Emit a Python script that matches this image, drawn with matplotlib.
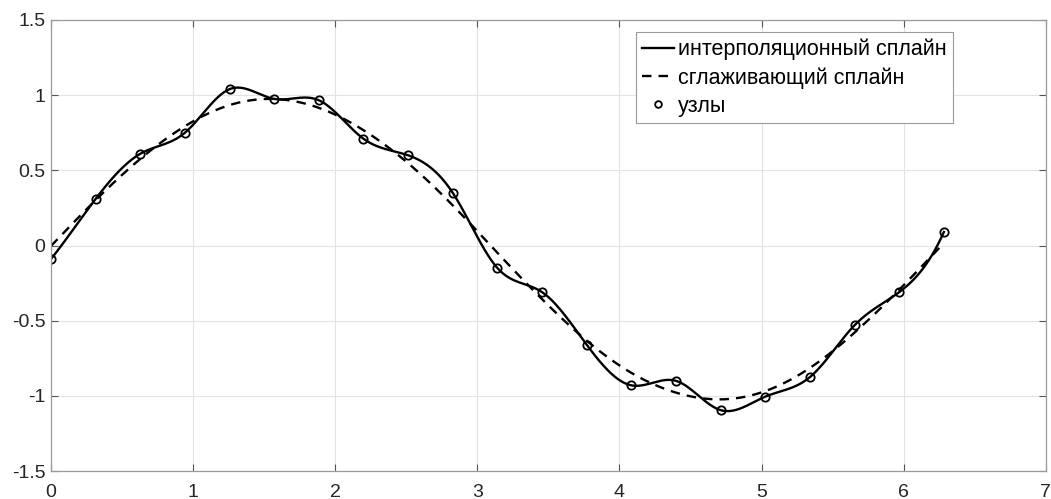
import numpy as np
import matplotlib.pyplot as plt

plt.rcParams['font.family'] = ['Liberation Sans', 'DejaVu Sans']

# узлы: 21 точка на [0, 2*pi]
x_nodes = np.linspace(0, 2 * np.pi, 21)
y_nodes = [-0.09, 0.31, 0.61, 0.75, 1.04, 0.975, 0.966, 0.71, 0.60, 0.35,
           -0.15, -0.31, -0.66, -0.93, -0.90, -1.095, -1.005, -0.875, -0.53, -0.31, 0.09]

p_smooth = 0.92

labels = ['интерполяционный сплайн', 'сглаживающий сплайн', 'узлы']


def second_derivs(x, y, kind):
    n = len(x)
    h = np.diff(x)
    A = np.zeros((n, n))
    b = np.zeros(n)
    for i in range(1, n - 1):
        A[i, i - 1] = h[i - 1] / 6
        A[i, i] = (h[i - 1] + h[i]) / 3
        A[i, i + 1] = h[i] / 6
        b[i] = (y[i + 1] - y[i]) / h[i] - (y[i] - y[i - 1]) / h[i - 1]
    if kind == 'natural':
        A[0, 0] = 1
        A[-1, -1] = 1
    else:  # not-a-knot
        A[0, 0], A[0, 1], A[0, 2] = h[1], -(h[0] + h[1]), h[0]
        A[-1, -3], A[-1, -2], A[-1, -1] = h[-1], -(h[-2] + h[-1]), h[-2]
    return np.linalg.solve(A, b)


def eval_spline(x, y, M, xx):
    i = np.clip(np.searchsorted(x, xx) - 1, 0, len(x) - 2)
    h = x[i + 1] - x[i]
    t1 = x[i + 1] - xx
    t0 = xx - x[i]
    return (M[i] * t1 ** 3 / (6 * h) + M[i + 1] * t0 ** 3 / (6 * h)
            + (y[i] / h - M[i] * h / 6) * t1 + (y[i + 1] / h - M[i + 1] * h / 6) * t0)


def smoothing_values(x, y, p):
    n = len(x)
    h = np.diff(x)
    Q = np.zeros((n, n - 2))
    R = np.zeros((n - 2, n - 2))
    for j in range(n - 2):
        Q[j, j] = 1 / h[j]
        Q[j + 1, j] = -1 / h[j] - 1 / h[j + 1]
        Q[j + 2, j] = 1 / h[j + 1]
        R[j, j] = (h[j] + h[j + 1]) / 3
        if j < n - 3:
            R[j, j + 1] = R[j + 1, j] = h[j + 1] / 6
    K = Q @ np.linalg.solve(R, Q.T)
    return np.linalg.solve(p * np.eye(n) + (1 - p) * K, p * np.asarray(y))


xn = np.asarray(x_nodes)
yn = np.asarray(y_nodes)
xx = np.linspace(xn[0], xn[-1], 600)

M_int = second_derivs(xn, yn, 'not-a-knot')
y_int = eval_spline(xn, yn, M_int, xx)

a_s = smoothing_values(xn, yn, p_smooth)
M_s = second_derivs(xn, a_s, 'natural')
y_s = eval_spline(xn, a_s, M_s, xx)

fig = plt.figure(figsize=(10.51, 4.99), dpi=100)
ax = fig.add_axes([0.0485, 0.056, 0.9465, 0.904])

ax.plot(xx, y_int, '-', color='k', lw=1.7, label=labels[0])
ax.plot(xx, y_s, '--', color='k', lw=1.7, dashes=(4, 3), label=labels[1])
ax.plot(xn, yn, 'o', mfc='none', mec='k', mew=1.3, ms=6, label=labels[2])

ax.set_xlim(0, 7)
ax.set_ylim(-1.5, 1.5)
ax.set_xticks(np.arange(0, 8))
ax.set_yticks([-1.5, -1, -0.5, 0, 0.5, 1, 1.5])
ax.set_yticklabels(['-1.5', '-1', '-0.5', '0', '0.5', '1', '1.5'])
ax.grid(True, color='#e3e3e3', lw=0.8)
ax.set_axisbelow(True)
ax.tick_params(direction='in', top=True, right=True, length=5, width=0.8,
               color='#555555', labelcolor='#262626', labelsize=14)
ax.tick_params(axis='x', pad=9)
ax.tick_params(axis='y', pad=4)
for s in ax.spines.values():
    s.set_color('#9a9a9a')
    s.set_linewidth(0.9)

leg = ax.legend(loc='upper left', bbox_to_anchor=(0.588, 0.973), borderaxespad=0,
                fontsize=15.5, handlelength=1.45, handletextpad=0.2, labelspacing=0.33,
                borderpad=0.3, fancybox=False, framealpha=1, markerscale=0.8)
leg.get_frame().set_edgecolor('#9a9a9a')
leg.get_frame().set_linewidth(0.8)

fig.savefig('out.png', dpi=100)
